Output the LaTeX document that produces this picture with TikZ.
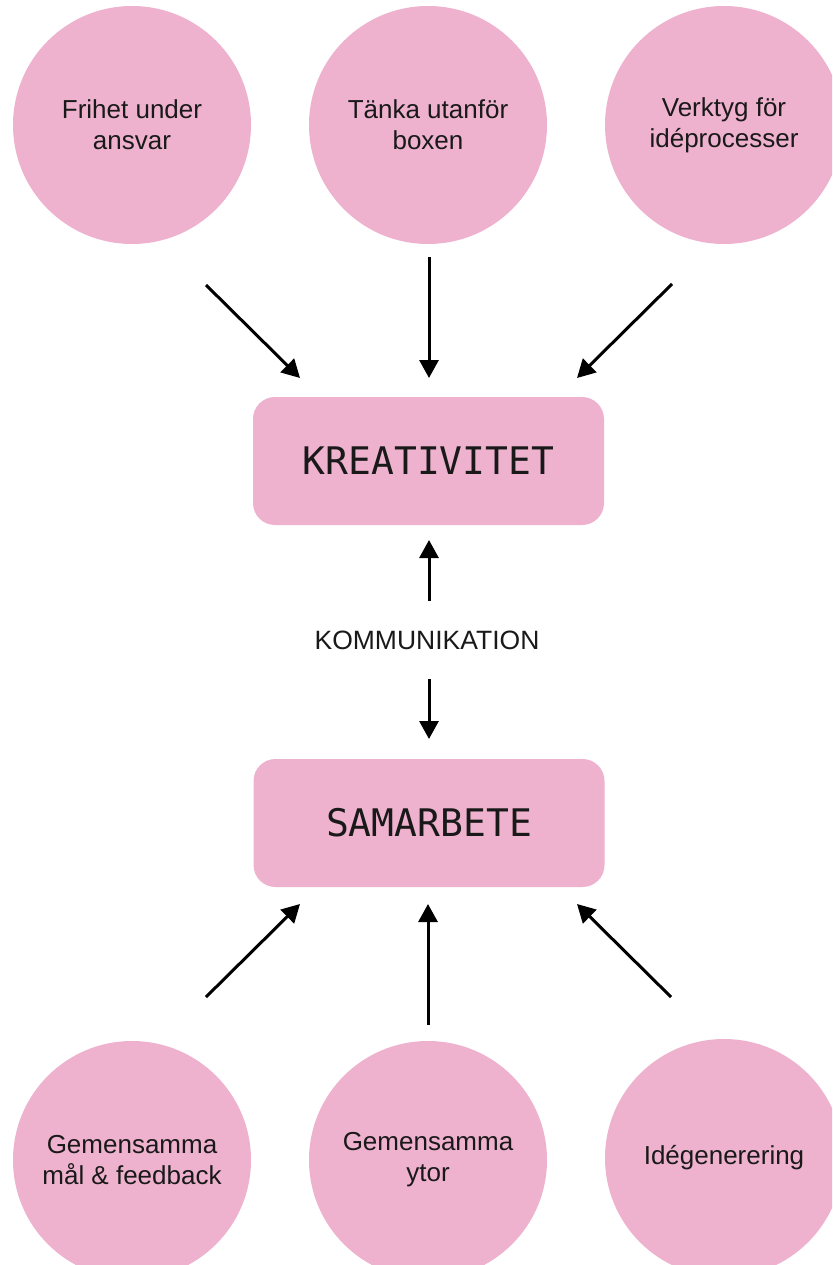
\documentclass[tikz,border=0pt]{standalone}
\usepackage{fontspec}
\setmainfont{Liberation Sans}
\newfontfamily\monof{DejaVu Sans Mono}
\usetikzlibrary{arrows.meta}
\definecolor{pinkfill}{RGB}{239,178,206}
\definecolor{ink}{RGB}{25,25,25}
\tikzset{
  bubble/.style={circle, fill=pinkfill, draw=none, minimum size=238pt, inner sep=0pt,
    align=center, text=ink, font=\fontsize{26}{31}\selectfont},
  mainbox/.style={rectangle, rounded corners=22pt, fill=pinkfill, draw=none,
    minimum width=351pt, minimum height=128pt, inner sep=0pt, text=ink,
    font=\monof\fontsize{38}{44}\selectfont},
  label/.style={text=ink, font=\fontsize{26.5}{31}\selectfont, inner sep=0pt},
  arr/.style={line width=3pt, -{Triangle[length=18pt,width=19pt]}}
}
\begin{document}
\begin{tikzpicture}[x=1pt,y=-1pt]
\clip (0,0) rectangle (832,1265);
\fill[white] (0,0) rectangle (832,1265);
% top bubbles
\node[bubble] (t1) at (132,125) {Frihet under\\ansvar};
\node[bubble] (t2) at (428,125) {Tänka utanför\\boxen};
\node[bubble] (t3) at (724,125) {Verktyg för\\idéprocesser};
% boxes
\node[mainbox] (kr) at (428.5,461) {KREATIVITET};
\node[label] (ko) at (427,640) {KOMMUNIKATION};
\node[mainbox] (sa) at (429,823) {SAMARBETE};
% bottom bubbles
\node[bubble] (b1) at (132,1160) {Gemensamma\\mål \& feedback};
\node[bubble] (b2) at (428,1160) {Gemensamma\\ytor};
\node[bubble] (b3) at (724,1158) {Idégenerering};
% arrow endpoints
\coordinate (a1s) at (206,285); \coordinate (a1e) at (300,378);
\coordinate (a2s) at (429,257); \coordinate (a2e) at (429,378);
\coordinate (a3s) at (672,284); \coordinate (a3e) at (577,378);
\coordinate (c1s) at (429,601); \coordinate (c1e) at (429,540);
\coordinate (c2s) at (429,679); \coordinate (c2e) at (429,739);
\coordinate (d1s) at (206,997); \coordinate (d1e) at (300,904);
\coordinate (d2s) at (428,1025); \coordinate (d2e) at (428,904);
\coordinate (d3s) at (671,997); \coordinate (d3e) at (577,904);
\draw[arr] (a1s) -- (a1e);
\draw[arr] (a2s) -- (a2e);
\draw[arr] (a3s) -- (a3e);
\draw[arr] (c1s) -- (c1e);
\draw[arr] (c2s) -- (c2e);
\draw[arr] (d1s) -- (d1e);
\draw[arr] (d2s) -- (d2e);
\draw[arr] (d3s) -- (d3e);
\end{tikzpicture}
\end{document}
